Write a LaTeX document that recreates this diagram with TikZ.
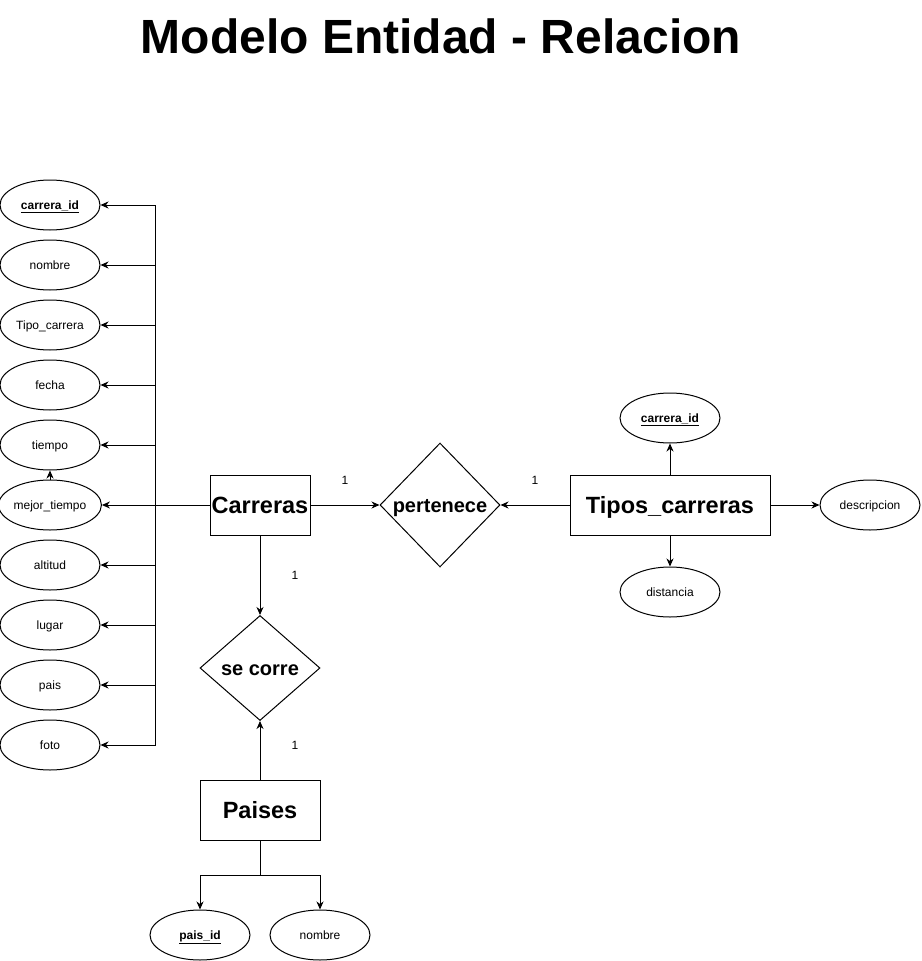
\documentclass[tikz,border=0pt]{standalone}
\usepackage{fontspec}
\setmainfont{Liberation Sans}
\usetikzlibrary{shapes.geometric,arrows.meta}
\tikzset{
  attr/.style={draw,ellipse,minimum width=100pt,minimum height=50pt,inner sep=0pt,text height=8.6pt,text depth=0pt,font=\fontsize{12}{14}\selectfont},
  entity/.style={draw,rectangle,minimum height=60pt,inner sep=0pt,text height=16.8pt,text depth=0pt,font=\fontsize{23.5}{26}\selectfont\bfseries},
  rel/.style={draw,diamond,inner sep=0pt,text height=14.3pt,text depth=0pt,font=\fontsize{20}{24}\selectfont\bfseries},
  arr/.style={-{Stealth[length=8pt,width=7pt,inset=2.5pt]}},
  card/.style={font=\fontsize{12}{14}\selectfont}
}
\newcommand{\keyattr}[1]{\textbf{\underline{#1}}}

\begin{document}
\begin{tikzpicture}[x=1pt,y=-1pt,line width=1pt]
    \useasboundingbox (0,0) rectangle (921,961);
    %%% TITLE %%%
    \node[font=\fontsize{48}{56}\selectfont\bfseries] (title) at (441,36){Modelo Entidad - Relacion};
    %%% ENTITIES %%%
    \node[entity,minimum width=100pt] (car) at (260,505){Carreras};
    \node[entity,minimum width=200pt] (tip) at (670,505){Tipos\_carreras};
    \node[entity,minimum width=120pt] (pai) at (260,810){Paises};
    % relations %
    \node[rel,minimum width=120pt,minimum height=124pt] (per) at (440,505){pertenece};
    \node[rel,minimum width=120pt,minimum height=105pt] (sec) at (260,668){se corre};
    %%% CARRERAS ATTRIBUTES %%%
    \coordinate (bus) at (155,505);
    \foreach \nm/\txt [count=\i from 0] in {cid/\keyattr{carrera\_id},nom/nombre,tca/Tipo\_carrera,fec/fecha,tie/tiempo,mej/mejor\_tiempo,alt/altitud,lug/lugar,pas/pais,fot/foto}{
        \node[attr] (\nm) at (50,205+60*\i){\txt};
    }
    \foreach \nm in {cid,nom,tca,fec,tie,alt,lug,pas,fot}{
        \draw[arr] (car.west) -- (bus) |- (\nm.east);
    }
    \draw[arr] (car.west) -- (mej.east);
    \draw[arr] (mej.north) -- (tie.south);
    %%% TIPOS_CARRERAS ATTRIBUTES %%%
    \node[attr] (tid) at (670,418){\keyattr{carrera\_id}};
    \node[attr] (dis) at (670,592){distancia};
    \node[attr] (des) at (870,505){descripcion};
    \draw[arr] (tip.north) -- (tid.south);
    \draw[arr] (tip.south) -- (dis.north);
    \draw[arr] (tip.east) -- (des.west);
    %%% PAISES ATTRIBUTES %%%
    \node[attr] (pid) at (200,935){\keyattr{pais\_id}};
    \node[attr] (pno) at (320,935){nombre};
    \coordinate (fork) at (260,875);
    \draw[arr] (pai.south) -- (fork) -| (pid.north);
    \draw[arr] (pai.south) -- (fork) -| (pno.north);
    %%% RELATIONSHIPS %%%
    \draw[arr] (car.east) -- (per.west);
    \draw[arr] (tip.west) -- (per.east);
    \draw[arr] (car.south) -- (sec.north);
    \draw[arr] (pai.north) -- (sec.south);
    % cardinalities %
    \node[card] (c1) at (345,480){1};
    \node[card] (c2) at (535,480){1};
    \node[card] (c3) at (295,575){1};
    \node[card] (c4) at (295,745){1};
\end{tikzpicture}
\end{document}
